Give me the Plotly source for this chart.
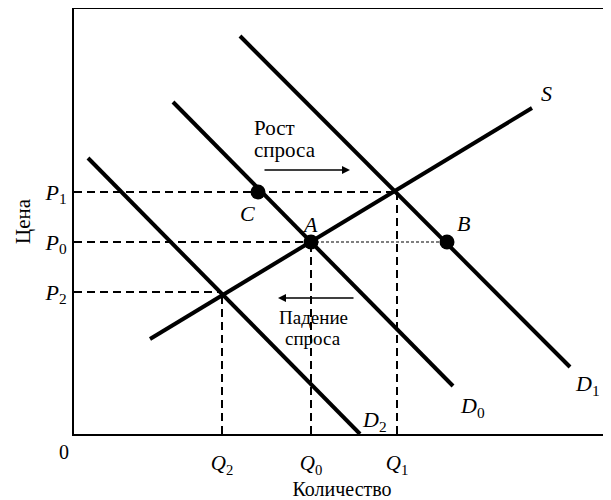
import plotly.graph_objects as go

# ---- data (in chart units) ----
supply_x = [76, 458]
supply_y = [95, 326]
d0_x = [99, 379]
d0_y = [332, 48]
d1_x = [166, 496]
d1_y = [398, 67]
d2_x = [14, 286]
d2_y = [276, 0]

price_levels = [142, 192, 242]          # P2, P0, P1
price_labels = ["<i>P</i><sub>2</sub>", "<i>P</i><sub>0</sub>", "<i>P</i><sub>1</sub>"]
quantity_levels = [148, 237, 323]       # Q2, Q0, Q1
quantity_labels = ["<i>Q</i><sub>2</sub>", "<i>Q</i><sub>0</sub>", "<i>Q</i><sub>1</sub>"]

point_names = ["A", "B", "C"]
point_x = [237, 373, 184]
point_y = [192, 192, 242]

X_MAX = 536
Y_MAX = 425

FONT = "Liberation Serif, Times New Roman, serif"
BLACK = "#000000"

fig = go.Figure()

def seg(x, y, width=4, dash=None):
    fig.add_trace(go.Scatter(x=x, y=y, mode="lines",
                             line=dict(color=BLACK, width=width, dash=dash),
                             hoverinfo="skip", showlegend=False, cliponaxis=False))

# guide lines
p2, p0, p1 = price_levels
q2, q0, q1 = quantity_levels
seg([0, q1], [p1, p1], 2, "8px,5px")
seg([0, q0], [p0, p0], 2, "8px,5px")
seg([q0, point_x[1]], [p0, p0], 1.2, "3px,2px")
seg([0, q2], [p2, p2], 2, "8px,5px")
seg([q2, q2], [0, p2], 2, "8px,5px")
seg([q0, q0], [0, p0], 2, "8px,5px")
seg([q1, q1], [0, p1], 2, "8px,5px")

# curves
seg(supply_x, supply_y)
seg(d0_x, d0_y)
seg(d1_x, d1_y)
seg(d2_x, d2_y)

# points
fig.add_trace(go.Scatter(x=point_x, y=point_y, mode="markers",
                         marker=dict(color=BLACK, size=15),
                         hoverinfo="skip", showlegend=False))

def label(x, y, text, size=22, **kw):
    fig.add_annotation(x=x, y=y, text=text, showarrow=False,
                       font=dict(family=FONT, size=size, color=BLACK), **kw)

label(472, 341, "<i>S</i>")
label(513, 49, "<i>D</i><sub>1</sub>")
label(398, 27, "<i>D</i><sub>0</sub>")
label(300, 13, "<i>D</i><sub>2</sub>")
label(236, 210, "<i>A</i>")
label(389, 211, "<i>B</i>")
label(173, 221, "<i>C</i>")
label(-10 / X_MAX, -18 / Y_MAX, "0", size=20, xref="paper", yref="paper",
      xanchor="center", yanchor="middle")

label(178, 306, "Рост", size=21, xanchor="left")
label(178, 284, "спроса", size=21, xanchor="left")
label(239, 117, "Падение", size=19)
label(239, 96, "спроса", size=19)

# arrows
fig.add_annotation(x=276, y=264, ax=189, ay=264, xref="x", yref="y", axref="x", ayref="y",
                   showarrow=True, arrowhead=2, arrowsize=1, arrowwidth=1.6,
                   arrowcolor=BLACK, text="")
fig.add_annotation(x=204, y=136, ax=281, ay=136, xref="x", yref="y", axref="x", ayref="y",
                   showarrow=True, arrowhead=2, arrowsize=1, arrowwidth=1.6,
                   arrowcolor=BLACK, text="")

fig.update_layout(
    width=603, height=492,
    margin=dict(l=66, r=1, t=1, b=66),
    paper_bgcolor="white", plot_bgcolor="white",
    font=dict(family=FONT, color=BLACK),
    showlegend=False,
)
fig.update_xaxes(range=[0, X_MAX], showgrid=False, zeroline=False,
                 showline=True, linecolor=BLACK, linewidth=2, mirror=True,
                 tickvals=quantity_levels, ticktext=quantity_labels,
                 tickfont=dict(family=FONT, size=21), ticks="", ticklabelstandoff=9,
                 title=dict(text="Количество", font=dict(family=FONT, size=20), standoff=2),
                 automargin=False, fixedrange=True)
fig.update_yaxes(range=[0, Y_MAX], showgrid=False, zeroline=False,
                 showline=True, linecolor=BLACK, linewidth=2, mirror=False,
                 tickvals=price_levels, ticktext=price_labels,
                 tickfont=dict(family=FONT, size=22), ticks="", ticklabelstandoff=1,
                 title=dict(text="Цена", font=dict(family=FONT, size=21), standoff=8),
                 automargin=False, fixedrange=True)

fig.write_html("out.html")
